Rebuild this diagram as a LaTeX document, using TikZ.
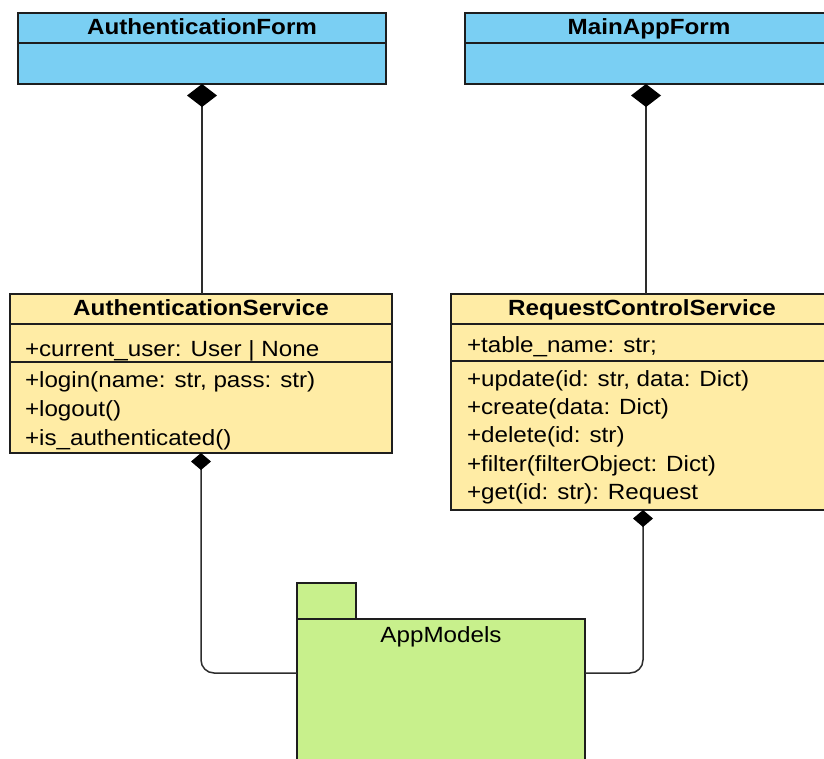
\documentclass[tikz,border=0pt]{standalone}
\usepackage{fontspec}
\setmainfont{Liberation Sans}[FakeStretch=1.1]
\usetikzlibrary{arrows.meta}
\definecolor{formblue}{RGB}{122,207,243}
\definecolor{svcyellow}{RGB}{255,236,165}
\definecolor{pkggreen}{RGB}{200,240,140}
\definecolor{edge}{RGB}{30,30,30}
\definecolor{conn}{RGB}{45,45,45}
\begin{document}
\begin{tikzpicture}[x=1pt,y=-1pt,
  every node/.style={font=\fontsize{22}{26}\selectfont, inner sep=0pt, outer sep=0pt},
  classbox/.style={draw=edge, line width=1.6pt, rectangle},
  divider/.style={draw=edge, line width=1.6pt},
  hdr/.style={font=\fontsize{22}{26}\selectfont\bfseries, anchor=base},
  member/.style={anchor=base west},
  bigcomp/.style={draw=conn, line width=1.5pt, {Diamond[length=23pt,width=30pt,color=black]}-},
  smallcomp/.style={draw=conn, line width=1.5pt, rounded corners=13pt, {Diamond[length=17pt,width=20pt,color=black]}-}
]
\useasboundingbox (0,0) rectangle (824,758);
\clip (0,0) rectangle (824,758);

% AuthenticationForm
\node[classbox, fill=formblue, minimum width=368pt, minimum height=71pt] (af) at (202,48.5) {};
\draw[divider] (af.west |- 0,43) -- (af.east |- 0,43);
\node[hdr] (aft) at (202,34) {AuthenticationForm};

% MainAppForm
\node[classbox, fill=formblue, minimum width=368pt, minimum height=71pt] (maf) at (649,48.5) {};
\draw[divider] (maf.west |- 0,43) -- (maf.east |- 0,43);
\node[hdr] (maft) at (649,34) {MainAppForm};

% AuthenticationService
\node[classbox, fill=svcyellow, minimum width=382pt, minimum height=159pt] (as) at (201,373.5) {};
\draw[divider] (as.west |- 0,324) -- (as.east |- 0,324);
\draw[divider] (as.west |- 0,362) -- (as.east |- 0,362);
\node[hdr] (ast) at (201,315) {AuthenticationService};
\node[member] (as1) at (25,356) {+current\_user: User | None};
\node[member] (as2) at (25,387) {+login(name: str, pass: str)};
\node[member] (as3) at (25,416) {+logout()};
\node[member] (as4) at (25,445) {+is\_authenticated()};

% RequestControlService
\node[classbox, fill=svcyellow, minimum width=382pt, minimum height=216pt] (rcs) at (642,402) {};
\draw[divider] (rcs.west |- 0,324) -- (rcs.east |- 0,324);
\draw[divider] (rcs.west |- 0,361) -- (rcs.east |- 0,361);
\node[hdr] (rcst) at (642,315) {RequestControlService};
\node[member] (r1) at (467,352) {+table\_name: str;};
\node[member] (r2) at (467,386) {+update(id: str, data: Dict)};
\node[member] (r3) at (467,414) {+create(data: Dict)};
\node[member] (r4) at (467,442) {+delete(id: str)};
\node[member] (r5) at (467,471) {+filter(filterObject: Dict)};
\node[member] (r6) at (467,499) {+get(id: str): Request};

% AppModels package
\node[classbox, fill=pkggreen, minimum width=59pt, minimum height=36pt] (tab) at (326.5,601) {};
\node[classbox, fill=pkggreen, minimum width=288pt, minimum height=200pt] (pkg) at (441,719) {};
\node[anchor=base] (pkgt) at (441,642) {AppModels};
\coordinate (pl) at (297,673);
\coordinate (pr) at (585,673);

% connectors
\draw[bigcomp] (af.south) -- (af.south |- as.north);
\draw[bigcomp] (646,84) -- (646,294);
\draw[smallcomp] (as.south) |- (pl);
\draw[smallcomp] (643,510) |- (pr);
\end{tikzpicture}
\end{document}
